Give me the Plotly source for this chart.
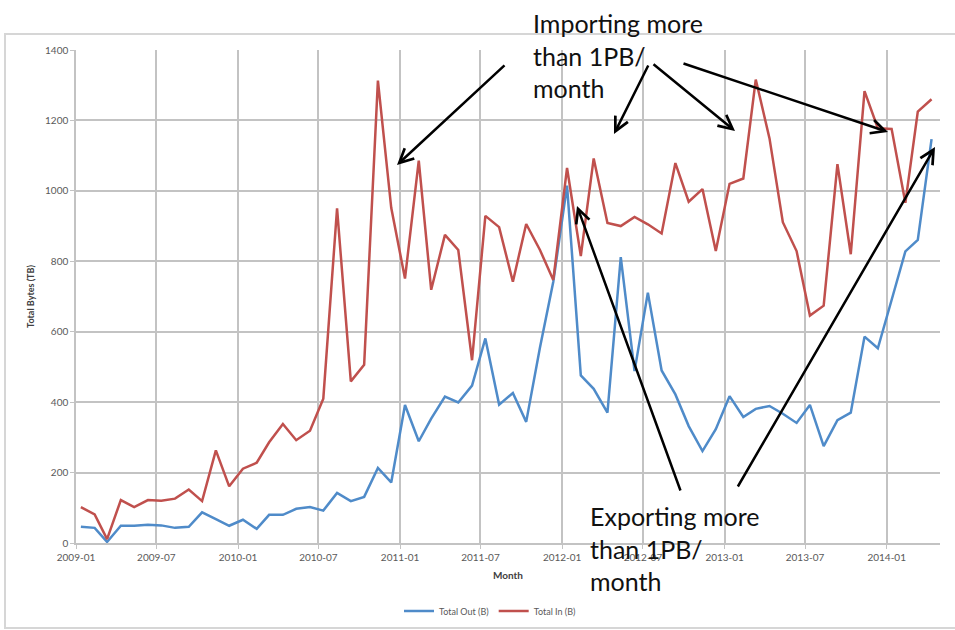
import pandas as pd
import plotly.graph_objects as go

# ---- data -------------------------------------------------------------
months = [f"{y}-{m:02d}" for y in range(2009, 2015) for m in range(1, 13)][:64]

total_out = [
    46, 43, 3, 49, 49, 52, 50, 43, 46, 87, 68, 49,
    66, 40, 80, 80, 97, 102, 92, 142, 119, 131, 213, 172,
    392, 289, 353, 416, 399, 447, 581, 393, 426, 344, 555, 742,
    1015, 476, 438, 370, 812, 488, 711, 490, 422, 332, 261, 323,
    417, 358, 381, 389, 367, 341, 392, 275, 349, 370, 586, 553,
    690, 828, 861, 1147,
]
total_in = [
    102, 81, 11, 122, 102, 122, 120, 126, 152, 119, 263, 161,
    211, 228, 286, 338, 292, 319, 410, 950, 459, 506, 1313, 952,
    751, 1086, 719, 875, 832, 519, 929, 897, 742, 906, 832, 747,
    1065, 815, 1092, 909, 900, 926, 905, 879, 1079, 969, 1005, 829,
    1020, 1035, 1316, 1149, 911, 829, 646, 674, 1076, 820, 1283, 1178,
    1176, 966, 1225, 1260,
]
y_ticks = [0, 200, 400, 600, 800, 1000, 1200, 1400]

# points sit a little into each month, as in the original date axis
x_dates = [f"{m}-12" for m in months]

BLUE = "#4f8bc9"
RED = "#c0504d"
GRID = "#c3c3c3"
FONT = "Lato"

fig = go.Figure()
fig.add_trace(go.Scatter(x=x_dates, y=total_out, mode="lines", name="Total Out (B)",
                         line=dict(color=BLUE, width=2.5)))
fig.add_trace(go.Scatter(x=x_dates, y=total_in, mode="lines", name="Total In (B)",
                         line=dict(color=RED, width=2.5)))

# ---- layout geometry ---------------------------------------------------
W, H = 955, 630
L, R, T, B = 76, 15, 50, 87
PW, PH = W - L - R, H - T - B


def px(xp):
    return (xp - L) / PW


def py(yp):
    return (H - B - yp) / PH


fig.update_layout(
    width=W, height=H,
    margin=dict(l=L, r=R, t=T, b=B, autoexpand=False),
    paper_bgcolor="white", plot_bgcolor="white",
    font=dict(family=FONT, color="#595959", size=10),
    showlegend=True,
    legend=dict(orientation="h", x=px(490), xanchor="center", y=py(611), yanchor="middle",
                font=dict(size=9, color="#595959"), itemwidth=30, tracegroupgap=0,
                bgcolor="rgba(0,0,0,0)"),
    xaxis=dict(
        type="date", range=["2009-01-01", "2014-05-01"],
        tick0="2009-01-01", dtick="M6", tickformat="%Y-%m",
        showgrid=True, gridcolor=GRID, gridwidth=1.5,
        showline=True, linecolor=GRID, linewidth=1.5,
        ticks="outside", ticklen=4, tickcolor=GRID,
        tickfont=dict(size=10, color="#595959"),
        title=dict(text="<b>Month</b>", font=dict(size=10, color="#404040"), standoff=10),
        zeroline=False,
    ),
    yaxis=dict(
        range=[0, 1400], tickvals=y_ticks,
        showgrid=True, gridcolor=GRID, gridwidth=1.5,
        showline=True, linecolor=GRID, linewidth=1.5,
        ticks="outside", ticklen=4, tickcolor=GRID,
        tickfont=dict(size=10, color="#595959"),
        title=dict(text="<b>Total Bytes (TB)</b>", font=dict(size=9, color="#404040"), standoff=9),
        zeroline=False,
    ),
)

# chart frame
fig.add_shape(type="rect", xref="paper", yref="paper",
              x0=px(5), x1=px(962), y0=py(628), y1=py(34),
              line=dict(color="#d6d6d6", width=2), fillcolor="rgba(0,0,0,0)", layer="below")

# ---- callout texts ------------------------------------------------------
fig.add_annotation(xref="paper", yref="paper", x=px(531), y=py(6), xanchor="left", yanchor="top",
                   text="Importing more<br>than 1PB/<br>month", showarrow=False, align="left",
                   font=dict(family=FONT, size=25, color="#111111"))
fig.add_annotation(xref="paper", yref="paper", x=px(588), y=py(499), xanchor="left", yanchor="top",
                   text="Exporting more<br>than 1PB/<br>month", showarrow=False, align="left",
                   font=dict(family=FONT, size=25, color="#111111"))

# ---- arrows (tail pixel -> head pixel) ----------------------------------
arrows = [
    ((506, 64), (397, 165)),
    ((649, 64), (614, 134)),
    ((652, 63), (735, 131)),
    ((682, 63), (888, 132)),
    ((681, 492), (577, 206)),
    ((737, 488), (935, 147)),
]
for (tx, ty), (hx, hy) in arrows:
    fig.add_annotation(xref="paper", yref="paper", x=px(hx), y=py(hy),
                       axref="pixel", ayref="pixel", ax=tx - hx, ay=ty - hy,
                       text="", showarrow=True, arrowhead=5, arrowsize=1.1,
                       arrowwidth=2.5, arrowcolor="black")

fig.write_html("out.html")
